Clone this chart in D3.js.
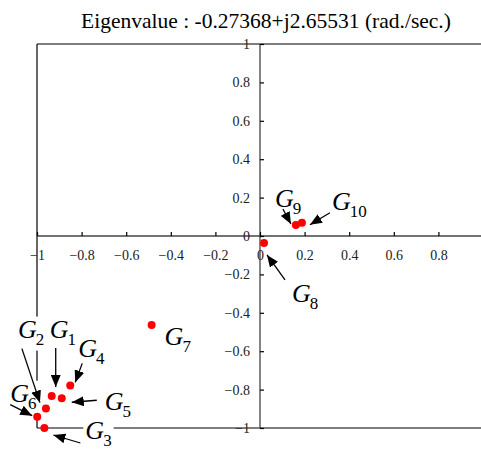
<!DOCTYPE html>
<html><head><meta charset="utf-8">
<script src="https://cdn.jsdelivr.net/npm/d3@7"></script>
<style>body{margin:0;background:#fff;} svg{display:block;}</style>
</head><body>
<svg id="chart" width="481" height="451"></svg>
<script>
// ---- data ----
const names = ["1","2","3","4","5","6","7","8","9","10"];
const realParts = [-0.934,-0.960,-0.967,-0.851,-0.889,-0.999,-0.486,0.018,0.161,0.188];
const imagParts = [-0.833,-0.899,-1.000,-0.778,-0.845,-0.941,-0.464,-0.036,0.057,0.069];
const xTickValues = [-1,-0.8,-0.6,-0.4,-0.2,0,0.2,0.4,0.6,0.8];
const yTickValues = [-1,-0.8,-0.6,-0.4,-0.2,0,0.2,0.4,0.6,0.8,1];
const titleText = "Eigenvalue : -0.27368+j2.65531 (rad./sec.)";

// ---- annotation layout (pixel offsets from each point) ----
const labelOffsets = [[-2,-58],[-28,-71],[41,11],[8,-28],[43,12],[-27,-15],[13,20],[28,59],[-21,-18],[30,-13]];
const arrowTails  = [[4,-48],[-24,-60],[36,15],[12,-22],[35,2],[-27,-12],null,[21,37],[-13,-16],[28,-10]];
const arrowTips   = [[4,-9],[-6,-6],[9,7],[5,-3],[10,4],[-5,-1],null,[3,12],[-5,-1],[8,2]];

const svg = d3.select("#chart");
const W = 481;
const x = d3.scaleLinear().domain([-1,1]).range([37,483]);
const y = d3.scaleLinear().domain([-1,1]).range([428,44]);
const serif = "'Liberation Serif','Times New Roman',serif";

svg.append("defs").append("marker")
  .attr("id","ah").attr("viewBox","0 0 12 10").attr("refX",12).attr("refY",5)
  .attr("markerWidth",12).attr("markerHeight",10).attr("markerUnits","userSpaceOnUse")
  .attr("orient","auto")
  .append("path").attr("d","M0,0 L12,5 L0,10 Z").attr("fill","#000");

// title
svg.append("text").attr("x",266).attr("y",28).attr("text-anchor","middle")
  .attr("font-family",serif).attr("font-size",21.5).attr("fill","#000").text(titleText);

// frame lines
svg.append("line").attr("x1",x(-1)).attr("x2",W).attr("y1",y(1)).attr("y2",y(1)).attr("stroke","#555").attr("stroke-width",1.6);
svg.append("line").attr("x1",x(-1)).attr("x2",x(-1)).attr("y1",y(1)).attr("y2",y(-1)).attr("stroke","#000").attr("stroke-width",1.2);
svg.append("line").attr("x1",x(-1)).attr("x2",W).attr("y1",y(-1)).attr("y2",y(-1)).attr("stroke","#000").attr("stroke-width",1.2);
// axis lines through zero
svg.append("line").attr("x1",x(-1)).attr("x2",W).attr("y1",y(0)).attr("y2",y(0)).attr("stroke","#444").attr("stroke-width",1.4);
svg.append("line").attr("x1",x(0)).attr("x2",x(0)).attr("y1",y(1)).attr("y2",y(-1)).attr("stroke","#333").attr("stroke-width",1.2);

// axes
const fmt = d => d3.format("")(+d.toFixed(1));
const xa = svg.append("g").attr("transform",`translate(0,${y(0)})`)
  .call(d3.axisBottom(x).tickValues(xTickValues).tickSize(-4).tickPadding(14).tickFormat(fmt));
const ya = svg.append("g").attr("transform",`translate(${x(0)},0)`)
  .call(d3.axisLeft(y).tickValues(yTickValues).tickSize(-4).tickPadding(10).tickFormat(fmt));
[xa,ya].forEach(g=>{
  g.select(".domain").remove();
  g.selectAll(".tick line").attr("stroke","#000").attr("stroke-width",1.2);
  g.selectAll("text").attr("font-family",serif).attr("font-size",14).attr("fill","#222");
});

const pts = names.map((n,i)=>({n, px:x(realParts[i]), py:y(imagParts[i]), i}));

// label backgrounds + labels
const lab = svg.append("g");
pts.forEach(p=>{
  const [dx,dy] = labelOffsets[p.i];
  const t = lab.append("text").attr("x",p.px+dx).attr("y",p.py+dy)
    .attr("font-family",serif).attr("font-style","italic").attr("font-size",26).attr("fill","#000");
  t.append("tspan").text("G");
  t.append("tspan").attr("font-size",17).attr("font-style","normal").attr("dx",-1).attr("dy",7).text(p.n);
});
lab.selectAll("text").each(function(){
  const b = this.getBBox();
  lab.insert("rect","text").attr("x",b.x-2).attr("y",b.y+2).attr("width",b.width+4).attr("height",b.height).attr("fill","#fff");
});

// arrows
pts.forEach(p=>{
  const a = arrowTails[p.i], b = arrowTips[p.i];
  if(!a) return;
  svg.append("line").attr("x1",p.px+a[0]).attr("y1",p.py+a[1]).attr("x2",p.px+b[0]).attr("y2",p.py+b[1])
    .attr("stroke","#000").attr("stroke-width",1.3).attr("marker-end","url(#ah)");
});

// points
svg.append("g").selectAll("circle").data(pts).join("circle")
  .attr("cx",d=>d.px).attr("cy",d=>d.py).attr("r",4).attr("fill","#f00");
</script>
</body></html>
